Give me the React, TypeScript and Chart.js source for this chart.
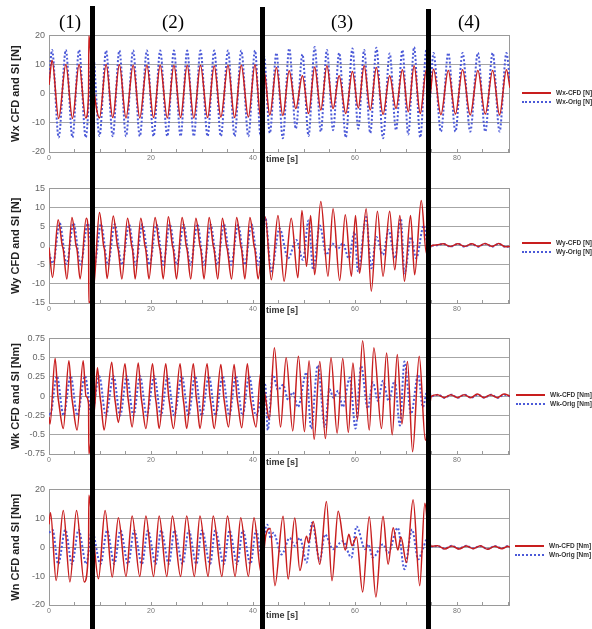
import React, { useEffect, useRef } from "react";
import { Chart, registerables } from "chart.js";

Chart.register(...registerables);

type Pt = [number, number];

// ---------- axis values ----------
const X_TICKS = [0, 5, 10, 15, 20, 25, 30, 35, 40, 45, 50, 55, 60, 65, 70, 75, 80, 85, 90];
const X_LABELED = [0, 20, 40, 60, 80];
const X_MAX = 90.4;
const WX_TICKS = [-20, -10, 0, 10, 20];
const WY_TICKS = [-15, -10, -5, 0, 5, 10, 15];
const WK_TICKS = [-0.75, -0.5, -0.25, 0, 0.25, 0.5, 0.75];
const WN_TICKS = [-20, -10, 0, 10, 20];
const REGION_LABELS = ["(1)", "(2)", "(3)", "(4)"];

// ---------- series: [time s, value] ----------
const WX_CFD: Pt[] = [
  [0, 3], [0.6, 11.5], [1.9, -8.5], [3.3, 10], [4.6, -8.5], [5.9, 10], [7.2, -8.3], [7.76, 0], [7.82, 20], [8.5, 6], [9.9, -8.3],
  [11.2, 10], [12.5, -8.2], [13.8, 10], [15.1, -8.3], [16.5, 9.8], [17.8, -8.3], [19.2, 9.8], [20.5, -8.2], [21.8, 9.8], [23.2, -8.3],
  [24.5, 9.8], [25.8, -8.2], [27.1, 9.8], [28.4, -8.3], [29.7, 9.8], [31.1, -8.2], [32.4, 9.6], [33.7, -8], [35.1, 9.8], [36.4, -8.2],
  [37.7, 9.8], [39.1, -8], [40.4, 10], [41.5, -8], [42.15, 8],
  [43.3, -7.3], [44.6, 9.0], [45.85, -7.5], [47.1, 7.9], [48.4, -5.1], [49.7, 6.2], [50.9, -6.8], [52.1, 9.2], [53.3, -5.6], [54.5, 9.6],
  [55.7, -5.1], [56.9, 6.2], [58.2, -6.8], [59.5, 7.6], [60.65, -4.9], [61.8, 9.6], [63.0, -5.6], [64.2, 9.0], [65.5, -7.1], [66.8, 6.2],
  [68.05, -5.1], [69.3, 8.2], [70.45, -6.2], [71.6, 9.6], [72.8, -6.8], [74.0, 8.2], [74.5, -3],
  [75.4, 8.4], [76.85, -7.2], [78.3, 8.0], [79.7, -7.0], [81.1, 8.2], [82.6, -7.3], [84.1, 8.0], [85.55, -7.0], [87.0, 8.0], [88.35, -7.3],
  [89.7, 8.2], [90.4, 2],
];
const WX_ORIG: Pt[] = [
  [0, 4], [0.6, 15], [1.9, -15], [3.3, 15], [4.6, -15], [5.9, 15], [7.2, -15], [8.55, 15], [9.9, -14.5],
  [11.2, 14.8], [12.5, -14.6], [13.8, 14.8], [15.1, -14.6], [16.5, 14.8], [17.8, -14.6], [19.2, 14.8], [20.5, -14.6], [21.8, 14.8],
  [23.2, -14.6], [24.5, 14.8], [25.8, -14.6], [27.1, 14.8], [28.4, -14.6], [29.7, 14.8], [31.1, -14.6], [32.4, 14.8], [33.7, -14.6],
  [35.1, 14.8], [36.4, -14.6], [37.7, 14.8], [39.1, -14.6], [40.4, 14.8], [41.5, -14.6], [42.15, 13],
  [43.3, -13.5], [44.6, 14], [45.85, -15.3], [47.1, 15.5], [48.4, -12], [49.7, 13.5], [50.9, -14.5], [52.1, 16], [53.3, -13], [54.5, 15],
  [55.7, -12.5], [56.9, 14], [58.2, -15], [59.5, 15.5], [60.65, -12], [61.8, 15], [63.0, -13.5], [64.2, 15.8], [65.5, -15.3], [66.8, 13.8],
  [68.05, -12.5], [69.3, 15], [70.45, -14], [71.6, 16], [72.8, -15], [74.0, 15], [74.5, -5],
  [75.4, 14], [76.85, -13], [78.3, 14], [79.7, -13], [81.1, 14], [82.6, -13], [84.1, 14], [85.55, -13], [87.0, 14], [88.35, -13],
  [89.7, 14], [90.4, 4],
];

const WY_CFD: Pt[] = [
  [0, -0.5], [0.7, -8.3], [1.8, 6.8], [2.6, 0], [2.8, -1], [3.5, -8.7], [4.5, 7.4], [5.3, 0], [5.5, -1], [6.1, -8.7], [7.3, 7.2],
  [7.76, 1], [7.82, -15], [8.9, -9],
  [9.9, 8.7], [10.7, 0], [10.9, -1.2], [11.4, -8.6], [12.6, 7.8], [13.4, 0], [13.6, -1.2], [14.3, -8.7],
  [15.4, 7.2], [16.2, 0], [16.4, -1.2], [16.9, -8.7], [18.0, 7.2], [18.8, 0], [19.0, -1.2], [19.6, -8.7],
  [20.8, 7.4], [21.6, 0], [21.8, -1.2], [22.4, -8.7], [23.4, 7.6], [24.2, 0], [24.4, -1.2], [25.0, -8.7],
  [26.1, 7.4], [26.9, 0], [27.1, -1.2], [27.8, -8.7], [28.8, 7.2], [29.6, 0], [29.8, -1.2], [30.4, -8.7],
  [31.4, 7.4], [32.2, 0], [32.4, -1.2], [33.1, -8.7], [34.0, 7.2], [34.8, 0], [35.0, -1.2], [35.8, -8.7],
  [36.8, 7.4], [37.6, 0], [37.8, -1.2], [38.4, -8.7], [39.4, 7.4], [40.2, 0], [40.4, -1.2], [41.0, -8.7],
  [42.4, 7.5], [43.6, -8.9], [44.9, 7.9], [46.1, -9.3], [47.5, 7.2], [48.8, -8.4], [49.6, 9.2], [50.5, -5.4], [51.3, 7.9], [52.1, -7.6],
  [53.3, 11.6], [54.7, -8.0], [55.7, 9.7], [57.0, -9.1], [58.1, 8.1], [59.3, -8.0], [60.1, 7.9], [60.9, -7.2], [62.2, 9.7], [63.2, -11.9],
  [64.4, 9.0], [65.5, -8.0], [66.8, 9.0], [67.8, -6.3], [68.8, 7.9], [69.7, -9.3], [70.9, 7.9], [71.7, -7.6], [73.0, 11.8], [74.0, -2],
  [74.6, -1],
  [75.0, 0], [76.0, 0.2], [77.3, 0.5], [78.7, -0.2], [80.2, 0.5], [81.5, -0.2], [82.9, 0.5], [84.2, -0.2], [85.5, 0.6], [86.9, -0.2],
  [88.2, 0.6], [89.5, -0.3], [90.4, -0.2],
];
const WY_ORIG: Pt[] = [
  [0, -2], [0.8, -4.6], [2.1, 5.9], [3.45, -4.8], [4.8, 5.9], [6.2, -4.9], [7.6, 5.8], [8.9, -5], [10.2, 5.6], [11.55, -5],
  [12.9, 5.6], [14.3, -5], [15.7, 5.5], [17.0, -5], [18.3, 5.6], [19.7, -5], [21.1, 5.5], [22.4, -5], [23.7, 5.6], [25.05, -5],
  [26.4, 5.5], [27.75, -5], [29.1, 5.6], [30.4, -5], [31.7, 5.5], [33.0, -5], [34.3, 5.6], [35.7, -5], [37.1, 5.5], [38.4, -5],
  [39.7, 5.6], [41.05, -5],
  [42.4, 7.5], [43.6, -6.7], [45.2, 4.5], [46.9, -3.3], [48.5, 1.5], [49.8, -3.7], [50.9, 6.6], [51.8, -6.3], [53.1, 5.3], [54.4, -2.4],
  [55.5, 0.6], [56.7, -0.7], [57.6, 0.6], [58.8, -3.3], [59.9, 3.6], [60.6, -6.7], [62.2, 7.5], [63.2, -5.9], [64.2, 2.3], [65.5, -2.4],
  [66.6, 4.1], [67.8, -3.3], [69.0, 7.1], [69.7, -7.2], [71.0, 2.3], [72.0, -3.3], [73.5, 5.3], [74.3, 0],
  [75.0, 0], [76.0, 0.1], [77.3, 0.45], [78.7, -0.25], [80.2, 0.45], [81.5, -0.25], [82.9, 0.45], [84.2, -0.25], [85.5, 0.5],
  [86.9, -0.25], [88.2, 0.5], [89.5, -0.3], [90.4, -0.25],
];

const WK_CFD: Pt[] = [
  [0, -0.27], [0.2, -0.36], [1.2, 0.49], [1.75, 0], [1.95, -0.1], [2.8, -0.42], [3.9, 0.46], [4.45, 0], [4.65, -0.1], [5.5, -0.44],
  [6.7, 0.46], [7.25, 0], [7.76, -0.1], [7.82, -0.75], [8.5, -0.4], [9.0, -0.1],
  [9.5, 0.37], [10.0, 0], [10.2, -0.1], [10.8, -0.44], [12.3, 0.44], [12.85, 0], [13.05, -0.1], [13.6, -0.34],
  [14.9, 0.42], [15.45, 0], [15.65, -0.1], [16.3, -0.4], [17.5, 0.43], [18.05, 0], [18.25, -0.1], [19.0, -0.42],
  [20.3, 0.42], [20.85, 0], [21.05, -0.1], [21.6, -0.42], [22.9, 0.42], [23.45, 0], [23.65, -0.1], [24.4, -0.42],
  [25.7, 0.42], [26.25, 0], [26.45, -0.1], [27.0, -0.42], [28.3, 0.42], [28.85, 0], [29.05, -0.1], [29.6, -0.42],
  [31.0, 0.42], [31.55, 0], [31.75, -0.1], [32.4, -0.42], [33.7, 0.41], [34.25, 0], [34.45, -0.1], [35.2, -0.4],
  [36.3, 0.41], [36.85, 0], [37.05, -0.1], [37.8, -0.41], [38.9, 0.42], [39.45, 0], [39.65, -0.1], [40.6, -0.4], [41.5, 0.3],
  [42.4, 0], [43.2, -0.3], [44.2, 0.63], [45.4, -0.4], [46.5, 0.5], [47.8, -0.45], [48.9, 0.52], [50.1, -0.46], [51.0, 0.46],
  [52.0, -0.56], [53.1, 0.45], [54.2, -0.55], [55.3, 0.5], [56.5, -0.48], [57.6, 0.49], [58.7, -0.47], [59.6, 0.43], [60.5, -0.3],
  [61.5, 0.72], [62.8, -0.44], [63.7, 0.63], [65.2, -0.42], [66.2, 0.56], [67.3, -0.5], [68.3, 0.54], [69.2, -0.36], [70.3, 0.45],
  [71.3, -0.72], [72.6, 0.52], [73.8, -0.57], [74.5, -0.2],
  [75.0, 0], [76.2, 0.02], [77.5, -0.02], [78.8, 0.02], [80.1, -0.02], [81.4, 0.02], [82.7, -0.02], [84.0, 0.03], [85.3, -0.02],
  [86.6, 0.02], [87.9, -0.02], [89.2, 0.03], [90.4, 0],
];
const WK_ORIG: Pt[] = [
  [0, -0.22], [0.2, -0.25], [1.55, 0.26], [2.85, -0.25], [4.25, 0.26], [5.55, -0.25], [7.05, 0.26], [8.35, -0.25], [9.85, 0.26],
  [11.15, -0.25], [12.65, 0.26], [13.95, -0.25], [15.25, 0.26], [16.55, -0.25], [17.85, 0.26], [19.15, -0.25], [20.65, 0.26],
  [21.95, -0.25], [23.25, 0.26], [24.55, -0.25], [26.05, 0.26], [27.35, -0.25], [28.65, 0.26], [29.95, -0.25], [31.35, 0.26],
  [32.65, -0.25], [34.05, 0.26], [35.35, -0.25], [36.65, 0.26], [37.95, -0.25], [39.25, 0.26], [40.55, -0.25],
  [42.4, 0.15], [42.9, -0.44], [43.9, 0.28], [44.9, 0.08], [45.9, 0.15], [46.9, -0.05], [47.8, 0.05], [48.8, -0.14], [50.5, 0.31],
  [51.4, -0.42], [52.7, 0.4], [54.1, -0.4], [55.0, 0.09], [55.8, -0.02], [56.7, 0.07], [57.6, -0.14], [59.0, 0.24], [60.1, -0.42],
  [61.2, 0.39], [62.5, -0.16], [63.5, 0.18], [64.5, -0.06], [65.5, 0.2], [66.6, -0.06], [67.8, 0.2], [68.8, -0.38], [69.7, 0.45],
  [71.0, -0.23], [72.4, 0.28], [73.3, -0.14], [74.3, 0.1],
  [75.0, 0], [76.3, 0.02], [77.6, -0.02], [78.9, 0.02], [80.2, -0.02], [81.5, 0.02], [82.8, -0.02], [84.1, 0.02], [85.4, -0.02],
  [86.7, 0.02], [88.0, -0.02], [89.3, 0.02], [90.4, 0],
];

const WN_CFD: Pt[] = [
  [0, 7.9], [0.3, 11.9], [1.4, -11.5], [2.8, 12.7], [4.1, -12.0], [5.4, 12.7], [6.9, -12.0], [7.76, 0], [7.82, 18], [8.5, 8], [9.7, -10.9],
  [11.0, 12.7], [12.4, -10.3], [13.6, 10.2], [15.1, -10.1], [16.3, 10.8], [17.8, -10.1], [19.0, 10.8], [20.5, -10.1], [21.6, 10.8],
  [23.1, -10.1], [24.2, 10.8], [25.8, -10.1], [27.0, 10.8], [28.5, -10.1], [29.6, 10.8], [31.2, -10.1], [32.2, 10.8], [33.9, -10.1],
  [35.0, 10.8], [36.5, -10.1], [37.6, 10.2], [39.1, -10.1], [40.2, 10.2], [41.6, -9],
  [42.5, 4], [43.4, 6.5], [44.3, -13.3], [45.9, 10.7], [46.9, -11.0], [48.2, 10.1], [49.2, -8.1], [50.5, 3.8], [50.9, 1.5], [51.8, 8.9],
  [53.1, -5.9], [54.4, 15.8], [55.5, -11.6], [56.7, 12.4], [58.1, -1], [58.8, 4.5], [59.4, 0.5], [60.3, 3.5], [61.5, -15.5],
  [62.8, 10.5], [64.1, -17.2], [65.5, 10.7], [66.5, -5.9], [67.5, 6.7], [68.4, -1], [69.0, 3.5], [70.1, -5.3], [71.4, 16.4],
  [72.7, -13.3], [73.7, 15.2], [74.4, 5],
  [75.0, 0.3], [76.2, 0.5], [77.6, -0.6], [79.0, 0.4], [80.4, -0.6], [81.8, 0.4], [83.2, -0.5], [84.6, 0.5], [86.0, -0.7],
  [87.4, 0.3], [88.8, -0.5], [90.0, 0.3], [90.4, 0],
];
const WN_ORIG: Pt[] = [
  [0, 5], [0.7, 6], [1.8, -5.8], [3.2, 6], [4.5, -5.8], [5.8, 6], [7.3, -5.8], [8.4, 5.8], [10.1, -5.8], [11.4, 5.8], [12.8, -5.8],
  [14.0, 5.8], [15.5, -5.8], [16.7, 5.8], [18.2, -5.8], [19.4, 5.8], [20.9, -5.8], [22.0, 5.8], [23.5, -5.8], [24.6, 5.8],
  [26.2, -5.8], [27.4, 5.8], [28.9, -5.8], [30.0, 5.8], [31.6, -5.8], [32.6, 5.8], [34.3, -5.8], [35.4, 5.8], [36.9, -5.8],
  [38.0, 5.8], [39.5, -5.8], [40.6, 5.8], [41.8, -4],
  [42.4, 6], [42.8, 7.8], [43.5, 3], [44.0, 5], [45.6, -2.5], [47.2, 3.2], [48.2, 0.5], [49.2, 3.2], [50.5, -5.3], [51.6, 8.5],
  [53.1, -4.7], [54.1, 4.4], [55.7, -0.7], [57.6, 2.1], [59.3, -3.6], [60.3, 7.2], [62.0, -0.7], [62.6, 1], [63.5, -3.6], [65.5, 1],
  [66.5, -1.9], [68.4, 6.7], [69.7, -7.6], [71.2, 6.1], [72.4, -4.2], [73.3, -0.7], [74.2, 3],
  [75.0, 0.2], [76.2, 0.4], [77.6, -0.5], [79.0, 0.5], [80.4, -0.5], [81.8, 0.5], [83.2, -0.4], [84.6, 0.4], [86.0, -0.6],
  [87.4, 0.4], [88.8, -0.4], [90.0, 0.4], [90.4, 0.1],
];

// ---------- styling / layout ----------
const RED = "#c81e1e";
const BLUE = "#4c5ad8";
const SANS = "'Liberation Sans', Arial, sans-serif";
const SERIF = "'Liberation Serif', 'Times New Roman', serif";
const PLOT_LEFT = 49;
const PLOT_RIGHT = 510;
const PAD_TOP = 8;
const PAD_BOTTOM = 14;

const framePlugin = {
  id: "frame",
  beforeDatasetsDraw(chart: any) {
    const { ctx, chartArea: a, scales } = chart;
    ctx.save();
    ctx.strokeStyle = "#9a9a9a";
    ctx.lineWidth = 1;
    ctx.strokeRect(Math.round(a.left) + 0.5, Math.round(a.top) + 0.5, Math.round(a.right - a.left) - 1, Math.round(a.bottom - a.top));
    ctx.beginPath();
    for (const v of X_TICKS) {
      const px = Math.round(scales.x.getPixelForValue(v)) + 0.5;
      ctx.moveTo(px, a.bottom);
      ctx.lineTo(px, a.bottom - 3);
    }
    ctx.stroke();
    ctx.restore();
  },
};

type PanelProps = {
  plotTop: number;
  plotBottom: number;
  yTicks: number[];
  yTitle: string;
  cfd: Pt[];
  orig: Pt[];
};

function Panel({ plotTop, plotBottom, yTicks, yTitle, cfd, orig }: PanelProps) {
  const ref = useRef<HTMLCanvasElement>(null);
  const height = plotBottom - plotTop + PAD_TOP + PAD_BOTTOM;
  useEffect(() => {
    const chart = new Chart(ref.current as HTMLCanvasElement, {
      type: "line",
      data: {
        datasets: [
          {
            label: "CFD",
            data: cfd.map(([x, y]) => ({ x, y })),
            borderColor: RED,
            borderWidth: 1.5,
            pointRadius: 0,
            cubicInterpolationMode: "monotone",
            fill: false,
          },
          {
            label: "Orig",
            data: orig.map(([x, y]) => ({ x, y })),
            borderColor: BLUE,
            borderWidth: 2,
            borderDash: [2, 2],
            pointRadius: 0,
            cubicInterpolationMode: "monotone",
            fill: false,
          },
        ],
      },
      options: {
        animation: false,
        responsive: false,
        events: [],
        layout: { padding: { top: PAD_TOP, right: 592 - PLOT_RIGHT, left: 0, bottom: 0 } },
        plugins: { legend: { display: false }, tooltip: { enabled: false } },
        scales: {
          x: {
            type: "linear",
            min: 0,
            max: X_MAX,
            grid: { display: false, drawTicks: false },
            border: { display: false },
            afterBuildTicks: (s: any) => {
              s.ticks = X_TICKS.map((v) => ({ value: v }));
            },
            afterFit: (s: any) => {
              s.height = PAD_BOTTOM;
            },
            ticks: {
              autoSkip: false,
              maxRotation: 0,
              padding: 2,
              color: "#777",
              font: { size: 7, family: SANS },
              callback: (v: any) => (X_LABELED.includes(Number(v)) ? String(v) : ""),
            },
          },
          y: {
            type: "linear",
            min: yTicks[0],
            max: yTicks[yTicks.length - 1],
            afterBuildTicks: (s: any) => {
              s.ticks = yTicks.map((v) => ({ value: v }));
            },
            afterFit: (s: any) => {
              s.width = PLOT_LEFT;
            },
            grid: { color: "#a6a6a6", lineWidth: 1, drawTicks: false },
            border: { display: false },
            ticks: {
              padding: 4,
              color: "#666",
              font: { size: 9, family: SANS },
              callback: (v: any) => String(v),
            },
            title: {
              display: true,
              text: yTitle,
              color: "#222",
              font: { size: 11, weight: "bold", family: SANS },
              padding: { top: 9, bottom: 0 },
            },
          },
        },
      },
      plugins: [framePlugin],
    } as any);
    return () => chart.destroy();
  }, []);
  return (
    <div style={{ position: "absolute", left: 0, top: plotTop - PAD_TOP, width: 592, height }}>
      <canvas ref={ref} width={592} height={height} style={{ display: "block", width: 592, height }} />
    </div>
  );
}

function Legend({ top, left, textLeft, cfdText, origText }: { top: number; left: number; textLeft: number; cfdText: string; origText: string }) {
  const txt: React.CSSProperties = {
    position: "absolute",
    left: textLeft,
    fontFamily: SANS,
    fontWeight: "bold",
    fontSize: 6.5,
    lineHeight: "8px",
    color: "#333",
    whiteSpace: "nowrap",
  };
  return (
    <>
      <div style={{ position: "absolute", left, top, width: 29, borderTop: `2px solid ${RED}` }} />
      <div style={{ ...txt, top: top - 3 }}>{cfdText}</div>
      <div style={{ position: "absolute", left, top: top + 9, width: 29, borderTop: `2px dotted ${BLUE}` }} />
      <div style={{ ...txt, top: top + 6 }}>{origText}</div>
    </>
  );
}

const timeLabel = (top: number) => (
  <div
    style={{
      position: "absolute",
      left: 266,
      top,
      fontFamily: SANS,
      fontWeight: "bold",
      fontSize: 9,
      lineHeight: "11px",
      color: "#333",
      whiteSpace: "nowrap",
    }}
  >
    time [s]
  </div>
);

export default function App() {
  const bars = [
    { left: 90, top: 6 },
    { left: 260, top: 7 },
    { left: 426, top: 9 },
  ];
  const labelCenters = [70, 173, 342, 469];
  return (
    <div style={{ position: "absolute", left: 0, top: 0, width: 592, height: 629, overflow: "hidden", background: "#fff" }}>
      <Panel plotTop={34} plotBottom={152} yTicks={WX_TICKS} yTitle="Wx CFD and SI [N]" cfd={WX_CFD} orig={WX_ORIG} />
      <Panel plotTop={187} plotBottom={303} yTicks={WY_TICKS} yTitle="Wy CFD and SI [N]" cfd={WY_CFD} orig={WY_ORIG} />
      <Panel plotTop={337} plotBottom={454} yTicks={WK_TICKS} yTitle="Wk CFD and SI [Nm]" cfd={WK_CFD} orig={WK_ORIG} />
      <Panel plotTop={488} plotBottom={605} yTicks={WN_TICKS} yTitle="Wn CFD and SI [Nm]" cfd={WN_CFD} orig={WN_ORIG} />

      <Legend top={92} left={522} textLeft={556} cfdText="Wx-CFD [N]" origText="Wx-Orig [N]" />
      <Legend top={242} left={522} textLeft={556} cfdText="Wy-CFD [N]" origText="Wy-Orig [N]" />
      <Legend top={394} left={516} textLeft={550} cfdText="Wk-CFD [Nm]" origText="Wk-Orig [Nm]" />
      <Legend top={545} left={515} textLeft={549} cfdText="Wn-CFD [Nm]" origText="Wn-Orig [Nm]" />

      {timeLabel(154)}
      {timeLabel(305)}
      {timeLabel(457)}
      {timeLabel(610)}

      {bars.map((b, i) => (
        <div key={i} style={{ position: "absolute", left: b.left, top: b.top, width: 5, height: 629 - b.top, background: "#000", zIndex: 2 }} />
      ))}
      {REGION_LABELS.map((t, i) => (
        <div
          key={t}
          style={{
            position: "absolute",
            left: labelCenters[i] - 25,
            top: 11,
            width: 50,
            textAlign: "center",
            fontFamily: SERIF,
            fontSize: 19,
            lineHeight: "22px",
            color: "#000",
            zIndex: 3,
          }}
        >
          {t}
        </div>
      ))}
    </div>
  );
}
